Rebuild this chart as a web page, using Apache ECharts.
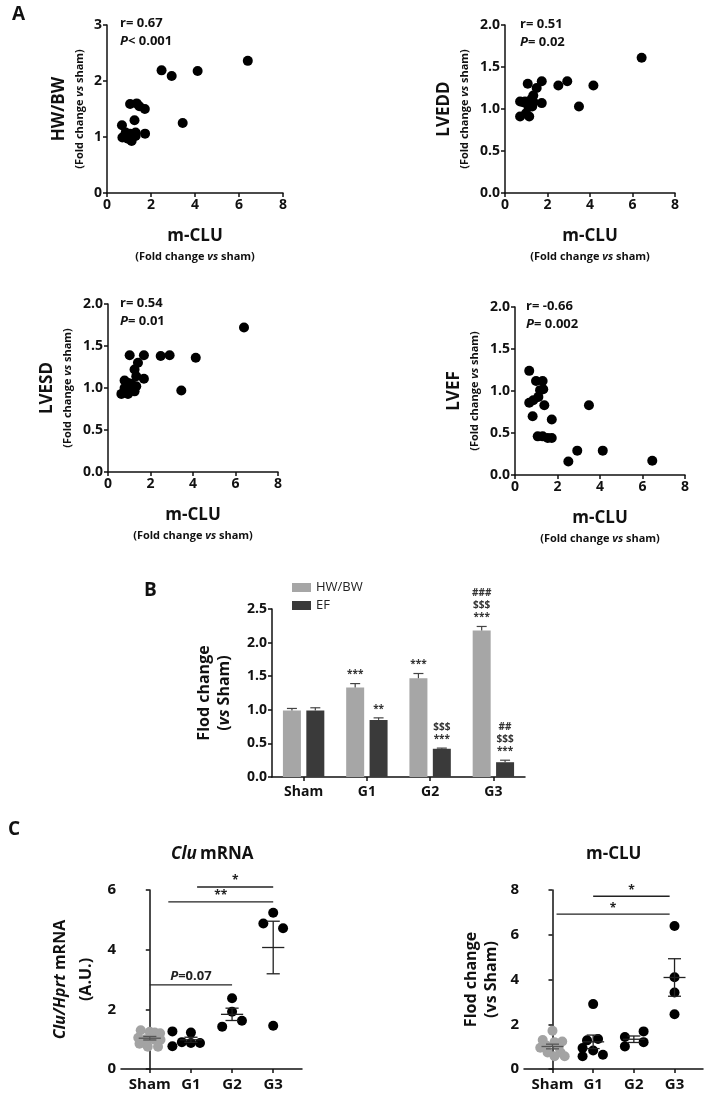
<!DOCTYPE html>
<html>
<head>
<meta charset="utf-8">
<script src="https://cdn.jsdelivr.net/npm/echarts@6/dist/echarts.min.js"></script>
<style>
  html, body { margin: 0; padding: 0; background: #fff; }
  #main { width: 709px; height: 1097px; }
</style>
</head>
<body>
<div id="main"></div>
<script>
const FONT = '"Open Sans", "Noto Sans", sans-serif'

// ---- Panel A: m-CLU (x) against echo/weight parameters (y) ----
const hwbwPoints = [[6.4, 2.36], [4.12, 2.18], [2.48, 2.19], [2.94, 2.09], [3.44, 1.25],
  [1.05, 1.59], [1.35, 1.6], [1.47, 1.55], [1.72, 1.5], [1.25, 1.3], [0.68, 1.21], [1.73, 1.06],
  [0.85, 1.08], [1.05, 1.06], [1.3, 1.08], [0.7, 0.99], [0.95, 0.97], [1.12, 0.93], [1.3, 1.02], [0.85, 1.0]]
const lveddPoints = [[6.43, 1.61], [2.93, 1.33], [2.51, 1.28], [4.16, 1.28], [3.48, 1.03],
  [1.07, 1.3], [1.73, 1.33], [1.49, 1.25], [1.33, 1.16], [1.25, 1.12], [1.73, 1.07], [0.71, 1.09],
  [0.94, 1.09], [1.1, 1.03], [1.28, 1.03], [0.71, 0.91], [1.14, 0.91], [0.99, 0.95], [0.85, 1.08], [1.35, 1.08]]
const lvesdPoints = [[6.4, 1.72], [2.9, 1.39], [2.48, 1.38], [4.13, 1.36], [3.45, 0.97],
  [1.02, 1.39], [1.69, 1.39], [1.41, 1.3], [1.25, 1.22], [1.33, 1.14], [1.69, 1.11], [1.1, 1.05],
  [0.78, 1.09], [0.63, 0.93], [0.94, 0.93], [1.18, 0.99], [1.33, 1.02], [1.25, 0.96], [0.78, 1.0], [0.95, 1.06]]
const lvefPoints = [[6.46, 0.17], [4.13, 0.29], [2.93, 0.29], [2.51, 0.16], [3.48, 0.83],
  [0.67, 1.24], [0.99, 1.12], [1.3, 1.12], [1.33, 1.02], [1.1, 0.93], [0.67, 0.86], [0.86, 0.89],
  [0.83, 0.7], [1.38, 0.83], [1.73, 0.66], [1.07, 0.46], [1.3, 0.46], [1.54, 0.44], [1.73, 0.44], [1.18, 1.01]]
const corrR = ['0.67', '0.51', '0.54', '-0.66']
const corrP = ['< 0.001', '= 0.02', '= 0.01', '= 0.002']

// ---- Panel B: bar chart ----
const barCategories = ['Sham', 'G1', 'G2', 'G3']
const hwbwMeans = [0.99, 1.33, 1.47, 2.18]
const hwbwErr = [0.03, 0.06, 0.07, 0.06]
const efMeans = [0.99, 0.85, 0.42, 0.22]
const efErr = [0.04, 0.03, 0.01, 0.03]
const hwbwMarks = ['', '***', '***', '###\n$$$\n***']
const efMarks = ['', '**', '$$$\n***', '##\n$$$\n***']

// ---- Panel C: dot plots ----
const dotGroups = ['Sham', 'G1', 'G2', 'G3']
const cluValues = [
  [1.3, 1.25, 1.22, 1.2, 1.05, 1.0, 1.0, 0.98, 0.85, 0.75, 0.75],
  [1.26, 1.22, 0.9, 0.87, 0.87, 0.76],
  [2.37, 1.92, 1.62, 1.42],
  [5.24, 4.88, 4.72, 1.45]
]
const cluJitter = [
  [-0.22, 0.0, 0.12, 0.25, -0.28, -0.1, 0.08, 0.26, -0.25, -0.05, 0.2],
  [-0.45, 0.0, -0.22, 0.22, 0.0, -0.45],
  [0.0, 0.0, 0.24, -0.24],
  [0.0, -0.24, 0.24, 0.0]
]
const mcluValues = [
  [1.71, 1.3, 1.23, 1.2, 1.05, 1.0, 0.95, 0.74, 0.74, 0.57, 0.57],
  [2.9, 1.34, 1.28, 0.94, 0.83, 0.64, 0.57],
  [1.68, 1.43, 1.2, 1.01],
  [6.39, 4.1, 3.42, 2.45]
]
const mcluJitter = [
  [0.0, -0.24, 0.24, 0.05, -0.15, 0.15, -0.3, -0.12, 0.2, 0.05, 0.3],
  [0.0, 0.12, -0.15, -0.26, 0.0, 0.24, -0.26],
  [0.24, -0.22, 0.24, -0.22],
  [0.0, 0.0, 0.0, 0.0]
]
const cluSigFrom = [0.45, 1.15, 0.0]
const cluSigTo = [3.0, 3.0, 2.0]
const cluSigY = [5.6, 6.1, 2.82]
const cluSigText = ['**', '*', 'P=0.07']
const mcluSigFrom = [0.1, 1.0]
const mcluSigTo = [2.88, 2.88]
const mcluSigY = [6.92, 7.72]
const mcluSigText = ['*', '*']

const DARK = '#111'
const axisLine = {lineStyle: {color: DARK, width: 1.5}}
const axisTick = {show: true, length: 4, lineStyle: {color: DARK, width: 1.5}}
const tickLabel = {color: DARK, fontWeight: 'bold', fontSize: 14, fontFamily: FONT, margin: 5}

const grids = [
  {left: 107, top: 25, width: 176, height: 168},
  {left: 505, top: 25, width: 170, height: 168},
  {left: 108, top: 304, width: 170, height: 168},
  {left: 515, top: 307, width: 170, height: 168},
  {left: 272, top: 609, width: 253, height: 168},
  {left: 121, top: 890, width: 181, height: 179},
  {left: 524, top: 890, width: 179, height: 179}
].map(g => Object.assign({outerBoundsMode: 'none', containLabel: false}, g))

const nameRich = {
  a: {fontSize: 17, fontWeight: 'bold', fontFamily: FONT, color: DARK, lineHeight: 24},
  b: {fontSize: 11, fontWeight: 'bold', fontFamily: FONT, color: DARK, lineHeight: 17},
  bi: {fontSize: 11, fontWeight: 'bold', fontStyle: 'italic', fontFamily: FONT, color: DARK, lineHeight: 17},
  n: {fontSize: 16, fontWeight: 'bold', fontFamily: FONT, color: DARK, lineHeight: 20},
  ni: {fontSize: 16, fontWeight: 'bold', fontStyle: 'italic', fontFamily: FONT, color: DARK, lineHeight: 20}
}
const foldSham = '{b|(Fold change }{bi|vs}{b| sham)}'

const scatterSets = [hwbwPoints, lveddPoints, lvesdPoints, lvefPoints]
const scatterNames = ['HW/BW', 'LVEDD', 'LVESD', 'LVEF']
const xAxes = []
const yAxes = []
const series = []

scatterSets.forEach((pts, i) => {
  xAxes.push({
    type: 'value', gridIndex: i, min: 0, max: 8, interval: 2,
    axisLine, axisTick, axisLabel: tickLabel, splitLine: {show: false},
    name: '{a|m-CLU}\n' + foldSham, nameLocation: 'middle', nameGap: 31,
    nameTextStyle: {rich: nameRich}
  })
  yAxes.push({
    type: 'value', gridIndex: i, min: 0, max: i === 0 ? 3 : 2, interval: i === 0 ? 1 : 0.5,
    axisLine: Object.assign({show: true}, axisLine), axisTick,
    axisLabel: Object.assign({formatter: v => i === 0 ? String(v) : v.toFixed(1)}, tickLabel),
    splitLine: {show: false},
    name: '{a|' + scatterNames[i] + '}\n' + foldSham, nameLocation: 'middle',
    nameRotate: 90, nameGap: i === 0 ? 19 : 32, nameTextStyle: {rich: nameRich}
  })
  series.push({
    type: 'scatter', xAxisIndex: i, yAxisIndex: i, data: pts,
    symbolSize: 10, itemStyle: {color: '#000', opacity: 1}, silent: true
  })
})

// Panel B axes
xAxes.push({
  type: 'category', gridIndex: 4, data: barCategories,
  axisLine, axisTick: {show: true, alignWithLabel: true, length: 4, lineStyle: {color: DARK, width: 1.5}},
  axisLabel: Object.assign({}, tickLabel, {margin: 8})
})
yAxes.push({
  type: 'value', gridIndex: 4, min: 0, max: 2.5, interval: 0.5,
  axisLine: Object.assign({show: true}, axisLine), axisTick,
  axisLabel: Object.assign({formatter: v => v.toFixed(1)}, tickLabel),
  splitLine: {show: false},
  name: '{n|Flod change}\n{n|(}{ni|vs}{n| Sham)}', nameLocation: 'middle',
  nameRotate: 90, nameGap: 38, nameTextStyle: {rich: nameRich}
})
series.push(
  {type: 'bar', name: 'HW/BW', xAxisIndex: 4, yAxisIndex: 4, data: hwbwMeans,
    barWidth: 18, barGap: '30%', itemStyle: {color: '#a6a6a6'}, silent: true},
  {type: 'bar', name: 'EF', xAxisIndex: 4, yAxisIndex: 4, data: efMeans,
    barWidth: 18, itemStyle: {color: '#3a3a3a'}, silent: true}
)

function barErrors(means, errs, marks, side) {
  return {
    type: 'custom', xAxisIndex: 4, yAxisIndex: 4, z: 5, silent: true,
    data: means.map((m, i) => [i, m, errs[i]]),
    renderItem: (params, api) => {
      const i = api.value(0), m = api.value(1), e = api.value(2)
      const x = api.coord([i, m])[0] + side * 11.7
      const yMid = api.coord([i, m])[1]
      const yTop = api.coord([i, m + e])[1]
      const kids = [
        {type: 'line', shape: {x1: x, y1: yMid, x2: x, y2: yTop}, style: {stroke: '#444', lineWidth: 1.2}},
        {type: 'line', shape: {x1: x - 5, y1: yTop, x2: x + 5, y2: yTop}, style: {stroke: '#444', lineWidth: 1.2}}
      ]
      const mark = marks[params.dataIndex]
      if (mark) {
        kids.push({type: 'text', style: {
          text: mark, x: x, y: yTop - 3, align: 'center', verticalAlign: 'bottom',
          font: 'bold 10px ' + FONT, fill: '#333', lineHeight: 12
        }})
      }
      return {type: 'group', children: kids}
    }
  }
}
series.push(barErrors(hwbwMeans, hwbwErr, hwbwMarks, -1), barErrors(efMeans, efErr, efMarks, 1))

// Panel C axes
function dotXAxis(g) {
  return {
    type: 'value', gridIndex: g, min: -0.7, max: 3.7,
    axisLine,
    axisTick: Object.assign({customValues: [0, 1, 2, 3]}, axisTick),
    axisLabel: Object.assign({}, tickLabel, {customValues: [0, 1, 2, 3], fontSize: 15, margin: 8,
      formatter: v => dotGroups[Math.round(v)] || ''}),
    splitLine: {show: false}
  }
}
xAxes.push(dotXAxis(5), dotXAxis(6))
yAxes.push({
  type: 'value', gridIndex: 5, min: 0, max: 6, interval: 2,
  axisLine: Object.assign({show: true}, axisLine), axisTick,
  axisLabel: Object.assign({}, tickLabel, {fontSize: 15}), splitLine: {show: false},
  name: '{ni|Clu/Hprt}{n| mRNA}\n{n|(A.U.)}', nameLocation: 'middle',
  nameRotate: 90, nameGap: 22, nameTextStyle: {rich: {
    n: Object.assign({}, nameRich.n, {lineHeight: 26}), ni: Object.assign({}, nameRich.ni, {lineHeight: 26})}}
}, {
  type: 'value', gridIndex: 6, min: 0, max: 8, interval: 2,
  axisLine: Object.assign({show: true}, axisLine), axisTick,
  axisLabel: Object.assign({}, tickLabel, {fontSize: 15}), splitLine: {show: false},
  name: '{n|Flod change}\n{n|(vs Sham)}', nameLocation: 'middle',
  nameRotate: 90, nameGap: 23, nameTextStyle: {rich: nameRich}
})

function mean(a) { return a.reduce((s, v) => s + v, 0) / a.length }
function sem(a) {
  const m = mean(a)
  const sd = Math.sqrt(a.reduce((s, v) => s + (v - m) * (v - m), 0) / (a.length - 1))
  return sd / Math.sqrt(a.length)
}

function dotSeries(g, values, jitter) {
  const out = []
  values.forEach((vals, gi) => {
    out.push({
      type: 'scatter', xAxisIndex: g, yAxisIndex: g, symbolSize: 10, silent: true,
      itemStyle: {color: gi === 0 ? '#a3a3a3' : '#000', opacity: 1},
      data: vals.map((v, k) => [gi + jitter[gi][k], v])
    })
  })
  out.push({
    type: 'custom', xAxisIndex: g, yAxisIndex: g, z: 5, silent: true,
    data: values.map((vals, gi) => [gi, mean(vals), sem(vals)]),
    renderItem: (params, api) => {
      const i = api.value(0), m = api.value(1), e = api.value(2)
      const col = i === 0 ? '#555' : '#222'
      const a = api.coord([i - 0.27, m]), b = api.coord([i + 0.27, m])
      const t = api.coord([i, m + e]), d = api.coord([i, m - e])
      const wl = api.coord([i - 0.16, m])[0], wr = api.coord([i + 0.16, m])[0]
      const st = {stroke: col, lineWidth: 1.3}
      return {type: 'group', children: [
        {type: 'line', shape: {x1: a[0], y1: a[1], x2: b[0], y2: b[1]}, style: st},
        {type: 'line', shape: {x1: t[0], y1: t[1], x2: d[0], y2: d[1]}, style: st},
        {type: 'line', shape: {x1: wl, y1: t[1], x2: wr, y2: t[1]}, style: st},
        {type: 'line', shape: {x1: wl, y1: d[1], x2: wr, y2: d[1]}, style: st}
      ]}
    }
  })
  return out
}

function sigSeries(g, from, to, ys, texts) {
  return {
    type: 'custom', xAxisIndex: g, yAxisIndex: g, z: 6, silent: true, clip: false,
    data: from.map((f, k) => [f, to[k], ys[k]]),
    renderItem: (params, api) => {
      const p1 = api.coord([api.value(0), api.value(2)])
      const p2 = api.coord([api.value(1), api.value(2)])
      const txt = texts[params.dataIndex]
      const isP = txt.indexOf('P') === 0
      return {type: 'group', children: [
        {type: 'line', shape: {x1: p1[0], y1: p1[1], x2: p2[0], y2: p2[1]}, style: {stroke: '#222', lineWidth: 1.3}},
        {type: 'text', style: {
          text: isP ? '{i|P}{n|' + txt.slice(1) + '}' : txt,
          x: (p1[0] + p2[0]) / 2, y: p1[1] - (isP ? 2 : 0), align: 'center', verticalAlign: 'bottom',
          font: 'bold ' + (isP ? 13 : 12) + 'px ' + FONT, fill: '#222',
          rich: {i: {fontStyle: 'italic', fontWeight: 'bold', fontSize: 13, fontFamily: FONT, fill: '#222'},
                 n: {fontWeight: 'bold', fontSize: 13, fontFamily: FONT, fill: '#222'}}
        }}
      ]}
    }
  }
}

series.push(...dotSeries(5, cluValues, cluJitter), ...dotSeries(6, mcluValues, mcluJitter))
series.push(sigSeries(5, cluSigFrom, cluSigTo, cluSigY, cluSigText))
series.push(sigSeries(6, mcluSigFrom, mcluSigTo, mcluSigY, mcluSigText))

// free text: panel letters, correlation stats, panel titles
const statPos = [[120, 17], [520, 18], [120, 297], [526, 300]]
const graphics = [
  {type: 'text', left: 12, top: 5, style: {text: 'A', font: 'bold 19px ' + FONT, fill: DARK}},
  {type: 'text', left: 144, top: 581, style: {text: 'B', font: 'bold 19px ' + FONT, fill: DARK}},
  {type: 'text', left: 8, top: 820, style: {text: 'C', font: 'bold 19px ' + FONT, fill: DARK}},
  {type: 'text', left: 171, top: 846, style: {
    text: '{i|Clu} {n|mRNA}',
    rich: {i: {font: 'italic bold 17px ' + FONT, fill: DARK}, n: {font: 'bold 17px ' + FONT, fill: DARK}}}},
  {type: 'text', left: 586, top: 846, style: {text: 'm-CLU', font: 'bold 17px ' + FONT, fill: DARK}}
]
statPos.forEach((p, i) => {
  graphics.push({type: 'text', left: p[0], top: p[1], style: {
    text: '{n|r= ' + corrR[i] + '}\n{i|P}{n|' + corrP[i] + '}',
    rich: {n: {font: 'bold 13px ' + FONT, fill: DARK, lineHeight: 18},
           i: {font: 'italic bold 13px ' + FONT, fill: DARK, lineHeight: 18}}
  }})
})

const chart = echarts.init(document.getElementById('main'), null, {renderer: 'canvas'})
chart.setOption({
  animation: false,
  backgroundColor: '#fff',
  textStyle: {fontFamily: FONT},
  grid: grids,
  xAxis: xAxes,
  yAxis: yAxes,
  legend: {
    data: ['HW/BW', 'EF'], orient: 'vertical', left: 287, top: 576,
    itemWidth: 19, itemHeight: 9, itemGap: 5, icon: 'rect',
    textStyle: {fontSize: 13, color: '#222', fontFamily: FONT}
  },
  series: series,
  graphic: graphics
})
</script>
</body>
</html>
